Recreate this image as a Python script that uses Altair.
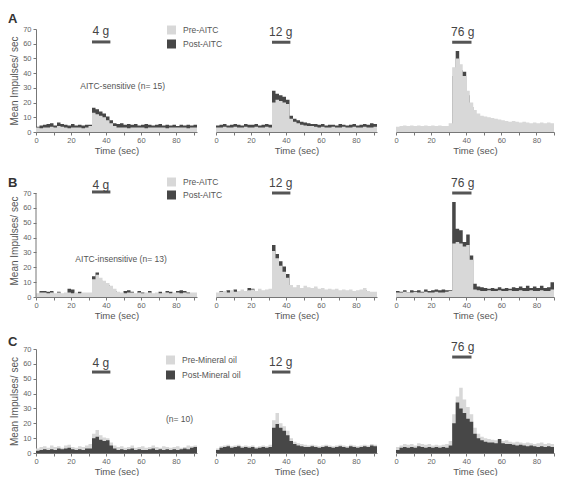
import altair as alt
import pandas as pd

FONT = "Liberation Sans"
LIGHT = "#d8d8d8"
DARK = "#474747"
INK = "#555555"
AXIS_C = "#777777"

# 2-second bin starts
BINS_92 = list(range(0, 92, 2))   # 4 g and 12 g panels (0-92 s)
BINS_90 = list(range(0, 90, 2))   # 76 g panels (0-90 s)

ROW_LETTERS = ["A", "B", "C"]
FORCES = ["4 g", "12 g", "76 g"]
SERIES_LABELS = [["Pre-AITC", "Post-AITC"],
                 ["Pre-AITC", "Post-AITC"],
                 ["Pre-Mineral oil", "Post-Mineral oil"]]
NOTES = ["AITC-sensitive  (n= 15)", "AITC-insensitive (n= 13)", "(n= 10)"]
NOTE_T = [49.5, 48.6, 82.0]
NOTE_V = [31.3, 25.6, 23.0]

# ---- Row A: AITC-sensitive ----
A4_PRE = [3, 2.5, 3, 3, 3.5, 3, 4, 3.5, 3, 2.5, 3, 3, 3, 2.5, 3, 4,
          13, 12, 11, 10, 8, 6, 4,
          3, 3, 3, 2.5, 3, 3, 3, 3, 2.5, 3, 3, 3, 3, 3, 2.5, 3, 3, 3, 3, 3, 2.5, 3, 3]
A4_POST = [3.5, 4.5, 5, 5.5, 6, 4.5, 6.5, 5.5, 5, 4.5, 5.5, 4.5, 5, 4.5, 5, 5,
           16.5, 15.5, 14, 12.5, 10.5, 8, 6,
           5.5, 6, 5, 5.5, 5, 5.5, 4.5, 5, 5.5, 5, 4.5, 5, 5.5, 4.5, 5, 4.5, 5, 4, 5, 4.5, 5, 4.5, 5]
A12_PRE = [3, 3, 3.5, 3, 3, 3.5, 3, 3, 3.5, 3, 3, 3.5, 3, 3, 3.5, 3,
           20, 22, 21, 20, 19, 9, 7, 6, 5, 4.5, 4, 4, 3.5,
           3, 3.5, 3, 3, 3.5, 3, 3, 3.5, 3, 3, 3.5, 3, 3, 3.5, 3, 3, 3.5]
A12_POST = [4.5, 5, 5.5, 4.5, 5, 5.5, 5, 4.5, 5.5, 5, 5, 5.5, 4.5, 5, 5.5, 5,
            28, 26, 25, 24, 22, 11, 9, 8, 7, 6.5, 6, 5.5, 5.5,
            5, 5.5, 4.5, 5, 5, 4.5, 5.5, 5, 4.5, 5, 5.5, 4.5, 5, 5.5, 5, 6, 5.5]
A76_PRE = [3.5, 4, 4.5, 4, 4.5, 4, 4.5, 4, 4.5, 4, 4.5, 4, 4.5, 4, 4, 6,
           44, 50, 46, 38, 28, 20, 15, 12.5, 11, 10.5, 10, 9.5, 9, 8.5, 8,
           7.5, 7, 7.5, 7, 6.5, 7, 6.5, 6, 6.5, 6, 6.5, 6, 6.5, 6]
A76_POST = [2.5, 3, 3.5, 3, 3.5, 3, 3.5, 3, 3.5, 3, 3.5, 3, 3.5, 3, 3, 4,
            38, 55, 42, 41, 25, 17, 12, 10, 9, 8.5, 8, 7.5, 7, 6.5, 6.5,
            6, 5.5, 6, 5.5, 5, 5.5, 5, 4.5, 5, 4.5, 5, 4.5, 5, 4.5]

# ---- Row B: AITC-insensitive ----
B4_PRE = [2.5, 3, 3, 2.5, 3, 2.5, 3, 2.5, 3, 3, 2.5, 3, 2.5, 3, 3, 3,
          12, 15, 13, 11, 9.5, 7.5, 5.5, 3.5,
          3, 2.5, 3, 3, 2.5, 3, 2.5, 3, 3, 2.5, 3, 2.5, 3, 3, 2.5, 3, 3, 2.5, 3, 2.5, 3, 3]
B4_POST = [2, 4, 4, 3.5, 4, 2, 3.5, 2, 2, 5.5, 5, 2, 3.5, 2, 2, 2.5,
           14, 16.5, 11, 10, 8, 6, 4, 3,
           2, 4, 4.5, 3.5, 2, 4, 3, 2, 4, 2, 2.5, 3.5, 2, 4, 3.5, 2, 4, 4.5, 4, 3, 2, 2]
B12_PRE = [3, 3.5, 4, 3, 4.5, 3.5, 4, 5, 4, 4.5, 5, 4, 5.5, 4.5, 5, 5.5,
           31, 26, 21, 17, 13, 8,
           6.5, 8, 6, 7.5, 6.5, 6, 7, 5.5, 6, 5, 5.5, 5, 5.5, 4.5, 5, 4.5, 5, 4, 4.5, 5, 6, 4, 3.5, 3.5]
B12_POST = [2, 4, 2.5, 4.5, 3, 5, 3, 2.5, 3, 6, 5.5, 3, 3, 3.5, 4, 4,
            35, 29, 24, 20.5, 15.5, 5,
            5, 6, 4.5, 6, 5, 4.5, 5.5, 4, 4.5, 3.5, 4, 3.5, 4, 3, 3.5, 3, 3.5, 3, 3, 3.5, 4.5, 3, 2.5, 2.5]
B76_PRE = [3, 3, 3.5, 3, 3, 3.5, 3, 3, 3.5, 3, 3, 3.5, 3, 3, 3.5, 4,
           36, 37, 36, 34, 35, 25,
           5, 4.5, 4, 4, 4.5, 4, 4, 4.5, 4, 4, 4.5, 4, 4, 4.5, 4, 4, 4.5, 4, 4, 4.5, 4, 4, 5]
B76_POST = [4, 3.5, 4.5, 3, 4.5, 4, 4.5, 3.5, 5, 4, 4.5, 5, 4.5, 5, 4.5, 4.5,
            64, 46, 45, 37, 42, 28,
            9, 7, 6.5, 6, 5.5, 6, 5.5, 6.5, 5.5, 6, 5.5, 6.5, 6, 7, 6, 7.5, 6, 7, 6, 7.5, 6, 6.5, 10]

# ---- Row C: mineral oil ----
C4_PRE = [3, 4, 4.5, 3.5, 5, 4, 4.5, 3.5, 5, 5.5, 4, 3.5, 4.5, 4, 5, 6,
          13, 15.5, 12, 10.5, 10, 7, 5, 4,
          4.5, 3.5, 4, 5, 3.5, 4, 4.5, 3.5, 4, 5, 4, 3.5, 4.5, 4, 3.5, 4, 4.5, 3.5, 4, 5, 4.5, 5]
C4_POST = [1.5, 2, 2.5, 2, 2.5, 2, 3, 2.5, 3, 3.5, 2.5, 2, 2.5, 2, 3, 3,
           10, 11, 9, 8, 8.5, 5, 3, 2,
           2.5, 2, 2.5, 3, 2, 2.5, 2, 2, 2.5, 3, 2, 2.5, 2, 2.5, 2, 2.5, 2, 2.5, 3, 2.5, 3.5, 4]
C12_PRE = [3, 4.5, 5, 5.5, 4.5, 5, 5.5, 4.5, 5, 4.5, 5, 4, 4.5, 5, 4.5, 5.5,
           22, 27, 20, 18, 15, 10, 7.5, 6.5,
           6, 5.5, 5, 5.5, 5, 4.5, 5, 5.5, 5, 4.5, 5, 5.5, 5, 4.5, 5.5, 5, 4.5, 5, 5.5, 5, 6, 5.5]
C12_POST = [2, 3.5, 4, 4.5, 3.5, 4, 4.5, 3.5, 4, 3.5, 4, 3, 3.5, 4, 3.5, 4,
            17, 19.5, 17, 15, 12, 8, 6, 5,
            4.5, 4, 4, 4.5, 4, 3.5, 4, 4.5, 4, 3.5, 4, 4.5, 4, 3.5, 4.5, 4, 3.5, 4, 4.5, 4, 5, 4.5]
C76_PRE = [4, 5, 6, 5.5, 6, 5, 6.5, 6, 5.5, 6, 5, 5.5, 5, 5.5, 6, 8,
           26, 38, 44, 36, 31, 26, 17, 13,
           11, 10, 9.5, 9, 8.5, 9, 8, 8.5, 7.5, 7, 7.5, 7, 6.5, 7, 6.5, 6, 6.5, 7, 6, 6.5, 6]
C76_POST = [2, 3.5, 4, 3.5, 4, 3.5, 4.5, 4, 3.5, 4, 3.5, 4, 3.5, 4, 3.5, 5,
            20, 34, 30, 27, 23, 21, 13, 10,
            8.5, 7.5, 7, 7, 6.5, 9.5, 6.5, 6, 6, 5.5, 5, 5.5, 5, 4.5, 5, 4.5, 4, 4.5, 4, 4.5, 4]

DATA = [[(A4_PRE, A4_POST), (A12_PRE, A12_POST), (A76_PRE, A76_POST)],
        [(B4_PRE, B4_POST), (B12_PRE, B12_POST), (B76_PRE, B76_POST)],
        [(C4_PRE, C4_POST), (C12_PRE, C12_POST), (C76_PRE, C76_POST)]]

# stimulus bars (time span) and force labels, in data units
STIM_T = [(32, 42.5), (32, 42.5), (32, 43)]
TITLE_T = [37, 37, 38]
TITLE_V = [[68.7, 68.0, 68.0], [75.4, 76.7, 76.7], [60.6, 61.2, 71.3]]
BAR_V = [[61.2, 61.0, 61.0], [70.7, 70.0, 70.0], [54.5, 54.5, 64.6]]

# layout
ROW_H = [103, 113, 104]
ROW_YMAX = [70, 76.06, 70]
COL_W = [161, 161, 158]
COL_XMAX = [92, 92, 90]
LETTER_DY = [-16, -7, -13]
LEG_X = [131, 131, 130]
LEG_Y = [-3.5, -6.5, 6.5]
LEG_ROWPAD = [5, 4, 6]


def panel(r, c):
    pre, post = DATA[r][c]
    labels = SERIES_LABELS[r]
    bins = BINS_92 if c < 2 else BINS_90
    xmax = COL_XMAX[c]
    ymax = ROW_YMAX[r]
    rows = []
    for lab, vals in zip(labels, (pre, post)):
        assert len(vals) == len(bins), (r, c, lab, len(vals))
        for t, v in zip(bins, vals):
            rows.append({"t": t, "v": v, "s": lab})
        rows.append({"t": xmax, "v": vals[-1], "s": lab})
    df = pd.DataFrame(rows)

    xs = alt.Scale(domain=[0, xmax], nice=False, zero=False)
    ys = alt.Scale(domain=[0, ymax], nice=False)
    first = c == 0
    xaxis = alt.Axis(values=list(range(0, 91, 10)),
                     labelExpr="datum.value % 20 == 0 && datum.value < 90 ? datum.label : ''",
                     title="Time (sec)", labelFlush=False, labelOverlap=False,
                     titleFontWeight="normal", titleFontSize=9.5, titleColor="#555")
    if first:
        yaxis = alt.Axis(values=list(range(0, 71, 10)), title="Mean Impulses/ sec",
                         domain=(ymax == 70), labelOverlap=False,
                         titleFontWeight="normal", titleFontSize=10, titleColor="#555")
        legend = alt.Legend(orient="none", legendX=LEG_X[r], legendY=LEG_Y[r], title=None,
                            symbolType="square", symbolSize=81, symbolStrokeWidth=0,
                            labelFont=FONT, labelFontSize=8.5, labelColor="#555",
                            rowPadding=LEG_ROWPAD[r], padding=0, labelOffset=7,
                            direction="vertical")
    else:
        yaxis = None
        legend = None
    color = alt.Color("s:N", scale=alt.Scale(domain=labels, range=[LIGHT, DARK]), legend=legend)

    def X(field):
        return alt.X(field, scale=xs, axis=xaxis, title="Time (sec)")

    def Y(field):
        return alt.Y(field, scale=ys, axis=yaxis, title="Mean Impulses/ sec")

    def area(lab):
        return alt.Chart(df).transform_filter(alt.datum.s == lab).mark_area(
            interpolate="step-after", opacity=1
        ).encode(x=X("t:Q"), y=Y("v:Q"), color=color)

    if r == 2:
        layers = [area(labels[0]), area(labels[1])]
    else:
        layers = [area(labels[1]), area(labels[0])]

    stim_df = pd.DataFrame({"t1": [STIM_T[c][0]], "t2": [STIM_T[c][1]], "y": [BAR_V[r][c]]})
    layers.append(alt.Chart(stim_df).mark_rule(color=INK, strokeWidth=3).encode(
        x=X("t1:Q"), x2="t2:Q", y=Y("y:Q")))

    ttl_df = pd.DataFrame({"t": [TITLE_T[c]], "y": [TITLE_V[r][c]], "label": [FORCES[c]]})
    layers.append(alt.Chart(ttl_df).mark_text(font=FONT, fontSize=12, color="#444").encode(
        x=X("t:Q"), y=Y("y:Q"), text="label:N"))

    if first:
        note_df = pd.DataFrame({"t": [NOTE_T[r]], "y": [NOTE_V[r]], "label": [NOTES[r]]})
        layers.append(alt.Chart(note_df).mark_text(font=FONT, fontSize=8.5, color="#555").encode(
            x=X("t:Q"), y=Y("y:Q"), text="label:N"))
        let_df = pd.DataFrame({"k": [ROW_LETTERS[r]]})
        layers.append(alt.Chart(let_df).mark_text(
            font=FONT, fontSize=13, fontWeight="bold", color="#333",
            align="left", baseline="top").encode(
            x=alt.value(-28), y=alt.value(LETTER_DY[r]), text="k:N"))
        if ymax != 70:
            ax_df = pd.DataFrame({"x": [0], "y1": [0], "y2": [70]})
            layers.append(alt.Chart(ax_df).mark_rule(color=AXIS_C, strokeWidth=1).encode(
                x=X("x:Q"), y=Y("y1:Q"), y2="y2:Q"))

    return alt.layer(*layers).properties(width=COL_W[c], height=ROW_H[r])


panels = [panel(r, c) for r in range(3) for c in range(3)]

chart = alt.concat(
    *panels, columns=3, spacing={"row": 52, "column": 19}, bounds="flush", align="each"
).resolve_scale(color="independent").resolve_legend(color="independent").properties(
    padding={"left": 0, "top": 5, "right": 0, "bottom": 0}
).configure_view(stroke=None).configure_axis(
    domainColor=AXIS_C, tickColor=AXIS_C, tickSize=3, grid=False,
    labelFont=FONT, labelFontSize=7.5, labelColor="#666",
    titleFont=FONT, titleFontSize=9.5, titleFontWeight="normal", titleColor="#555"
).configure_axisX(labelPadding=1, titlePadding=2).configure_axisY(labelPadding=2, titlePadding=3)

chart.save("out.html", embed_options={"renderer": "svg", "actions": False})
